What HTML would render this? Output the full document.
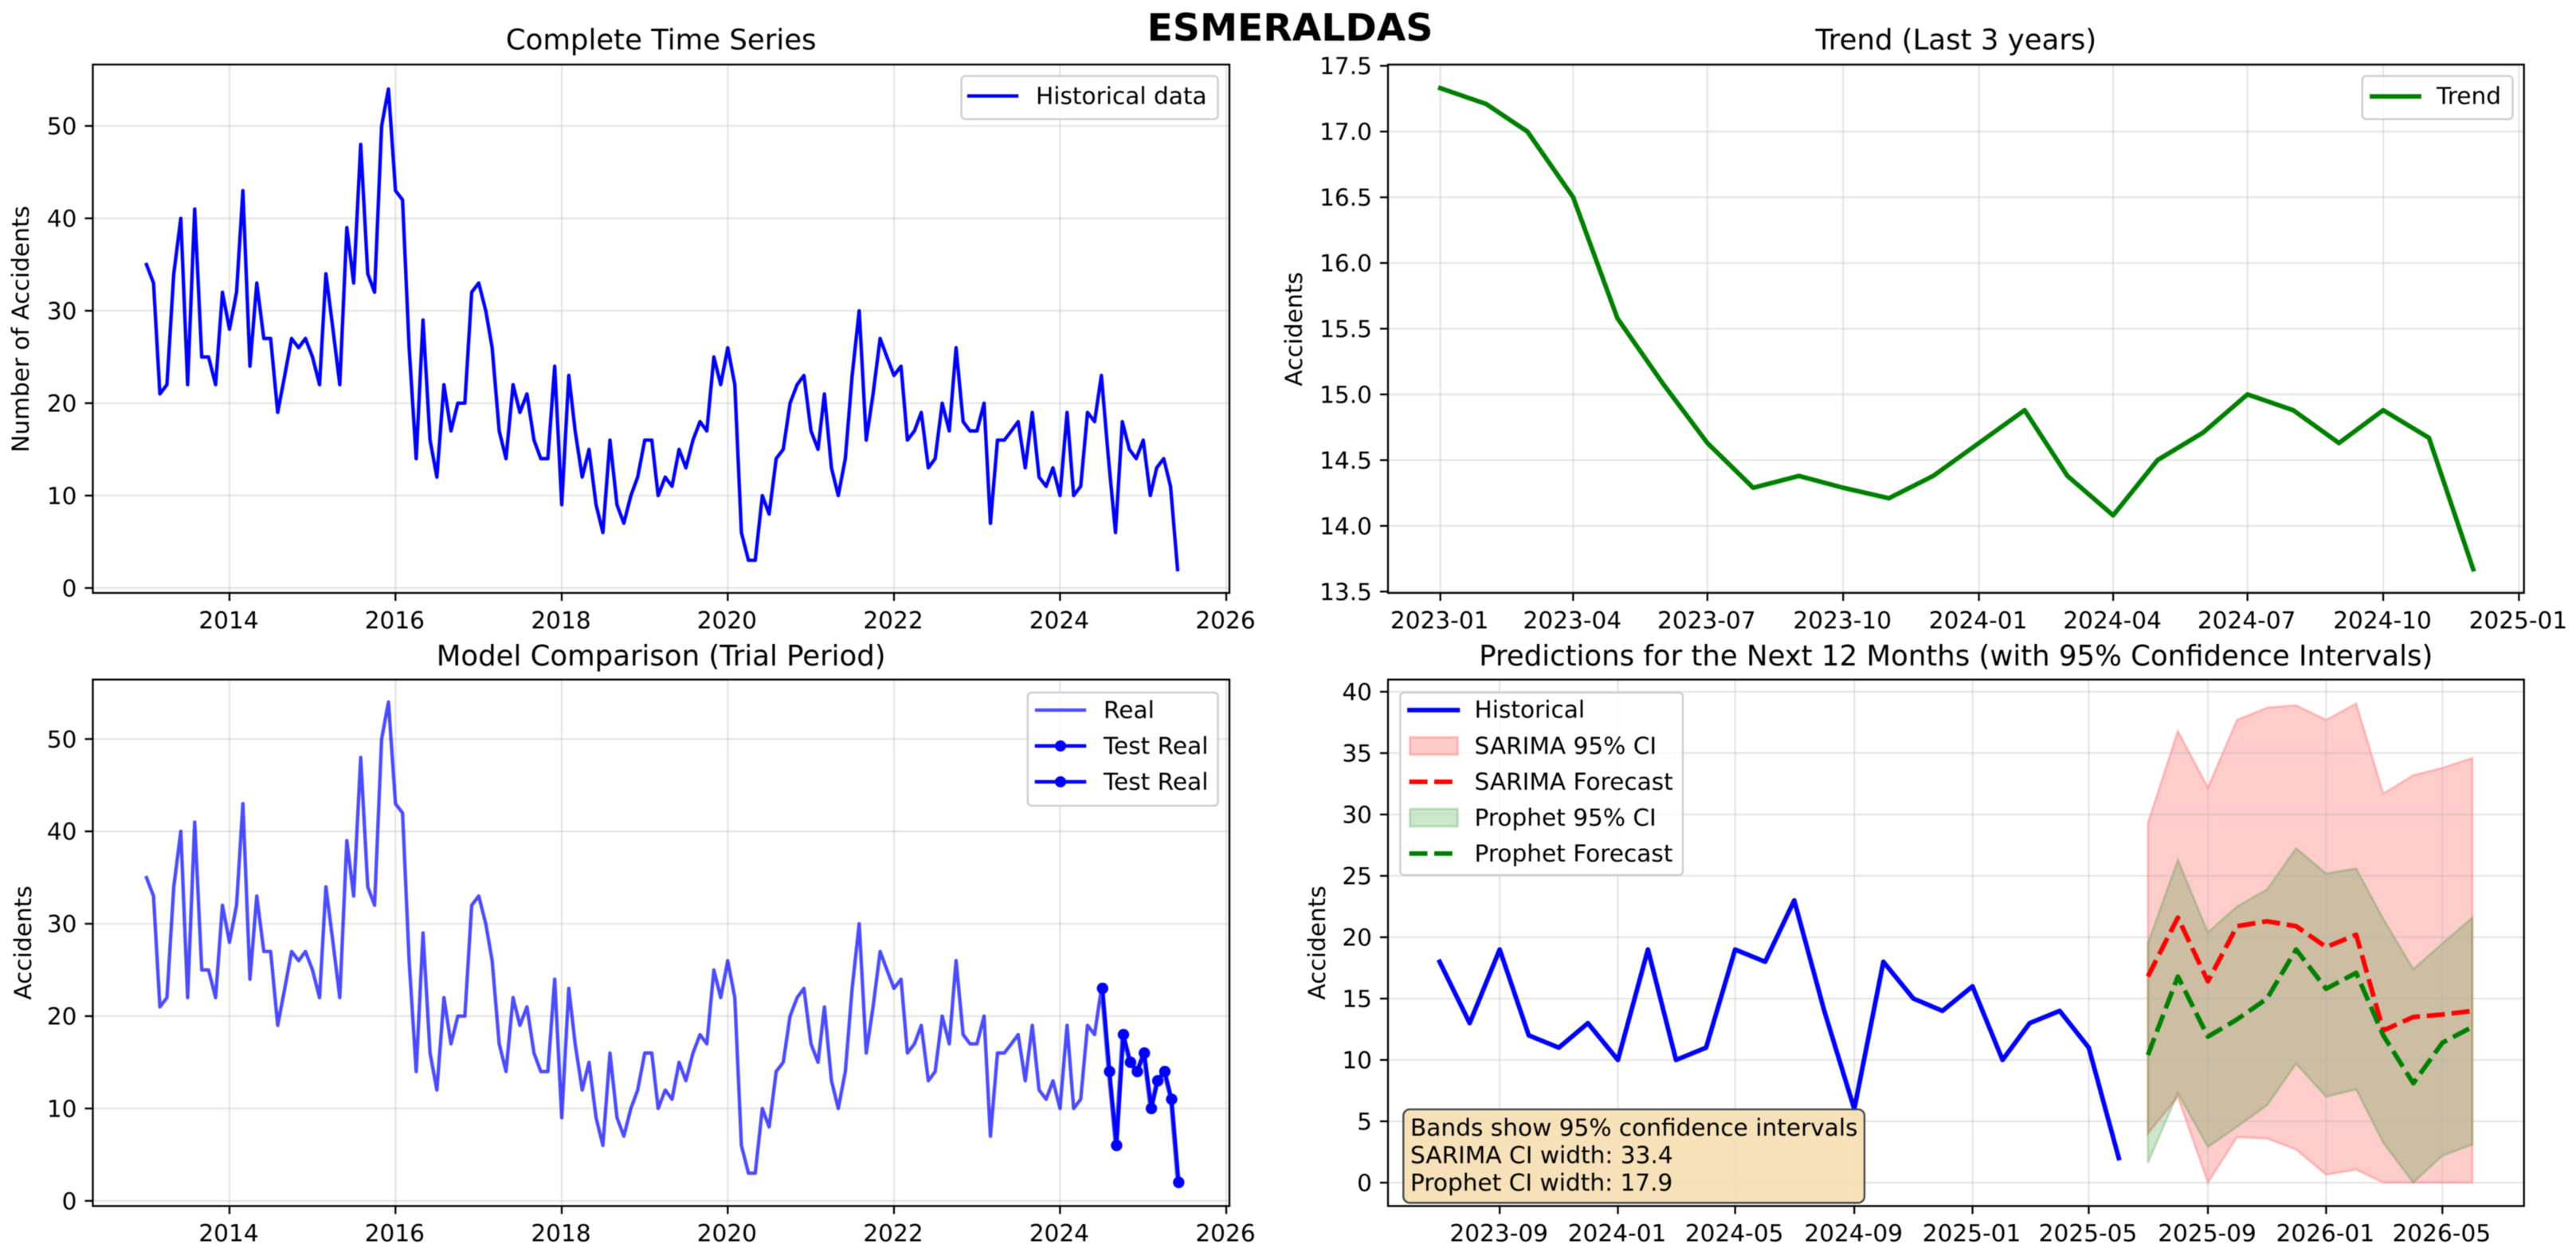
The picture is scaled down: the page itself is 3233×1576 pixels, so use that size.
<!DOCTYPE html>
<html lang="en">
<head>
<meta charset="utf-8">
<title>ESMERALDAS accident charts</title>
<style>
html,body{margin:0;padding:0;background:#fff;width:3233px;height:1576px;overflow:hidden}
svg{display:block;filter:blur(0.6px)}
text{font-family:"DejaVu Sans","Liberation Sans",sans-serif;font-size:29.6px;fill:#000}
.title{font-size:35.5px;text-anchor:middle}
.lg{fill:#fff;fill-opacity:.8;stroke:#ccc;stroke-width:2.3}
.frame{fill:none;stroke:#000;stroke-width:2.3}
</style>
</head>
<body>
<svg xmlns="http://www.w3.org/2000/svg" width="3233" height="1576" viewBox="0 0 3233 1576">
  <rect width="3233" height="1576" fill="#fff"/>
  <text x="1619" y="51" text-anchor="middle" style="font-size:47.3px;font-weight:bold">ESMERALDAS</text>

  <!-- Panel 1 -->
  <g>
    <text class="title" x="829.7" y="62">Complete Time Series</text>
    <text transform="translate(36,413) rotate(-90)" text-anchor="middle">Number of Accidents</text>
    <g id="p1-grid"></g><g id="p1-marks"></g><g id="p1-ticks"></g>
    <rect class="frame" x="116.5" y="81" width="1426.5" height="663"/>
    <g>
      <rect class="lg" x="1206.6" y="95.4" width="322" height="54.1" rx="5"/>
      <line x1="1216" x2="1276" y1="120.4" y2="120.4" stroke="#0000ff" stroke-width="4.35" stroke-linecap="square"/>
      <text x="1300" y="130.5">Historical data</text>
    </g>
  </g>

  <!-- Panel 2 -->
  <g>
    <text class="title" x="2454.8" y="62">Trend (Last 3 years)</text>
    <text transform="translate(1634,413) rotate(-90)" text-anchor="middle">Accidents</text>
    <g id="p2-grid"></g><g id="p2-marks"></g><g id="p2-ticks"></g>
    <rect class="frame" x="1742" y="81" width="1425.7" height="663"/>
    <g>
      <rect class="lg" x="2964.8" y="95.4" width="188.7" height="54.1" rx="5"/>
      <line x1="2977" x2="3036" y1="121" y2="121" stroke="#008000" stroke-width="5.8" stroke-linecap="square"/>
      <text x="3058" y="130.5">Trend</text>
    </g>
  </g>

  <!-- Panel 3 -->
  <g>
    <text class="title" x="829.7" y="835">Model Comparison (Trial Period)</text>
    <text transform="translate(39,1183) rotate(-90)" text-anchor="middle">Accidents</text>
    <g id="p3-grid"></g><g id="p3-marks"></g><g id="p3-ticks"></g>
    <rect class="frame" x="116.5" y="852.7" width="1426.5" height="660.6"/>
    <g>
      <rect class="lg" x="1289.8" y="869" width="238.8" height="142" rx="5"/>
      <line x1="1301" x2="1361" y1="891" y2="891" stroke="#0000ff" stroke-opacity=".7" stroke-width="4.35" stroke-linecap="square"/>
      <text x="1385" y="901">Real</text>
      <line x1="1301" x2="1361" y1="936" y2="936" stroke="#0000ff" stroke-width="4.6" stroke-linecap="square"/>
      <circle cx="1331" cy="936" r="7" fill="#0000ff"/>
      <text x="1385" y="946">Test Real</text>
      <line x1="1301" x2="1361" y1="981" y2="981" stroke="#0000ff" stroke-width="4.6" stroke-linecap="square"/>
      <circle cx="1331" cy="981" r="7" fill="#0000ff"/>
      <text x="1385" y="991">Test Real</text>
    </g>
  </g>

  <!-- Panel 4 -->
  <g>
    <text class="title" x="2454.8" y="835">Predictions for the Next 12 Months (with 95% Confidence Intervals)</text>
    <text transform="translate(1663,1183) rotate(-90)" text-anchor="middle">Accidents</text>
    <g id="p4-bands"></g><g id="p4-grid"></g><g id="p4-marks"></g><g id="p4-ticks"></g>
    <rect class="frame" x="1742" y="852.7" width="1425.7" height="660.6"/>
    <g>
      <rect class="lg" x="1757.3" y="869" width="354.7" height="229" rx="5"/>
      <line x1="1769" x2="1829.4" y1="891" y2="891" stroke="#0000ff" stroke-width="5.8" stroke-linecap="square"/>
      <text x="1850.5" y="900.5">Historical</text>
      <rect x="1769.5" y="925" width="60" height="22" fill="#ff0000" fill-opacity=".2" stroke="#ff0000" stroke-opacity=".2" stroke-width="2.9"/>
      <text x="1850.5" y="946">SARIMA 95% CI</text>
      <line x1="1768.7" x2="1829" y1="981" y2="981" stroke="#ff0000" stroke-width="5.8" stroke-dasharray="22.8 8.5"/>
      <text x="1850.5" y="991">SARIMA Forecast</text>
      <rect x="1769.5" y="1015" width="60" height="22" fill="#008000" fill-opacity=".2" stroke="#008000" stroke-opacity=".2" stroke-width="2.9"/>
      <text x="1850.5" y="1036">Prophet 95% CI</text>
      <line x1="1768.7" x2="1829" y1="1071" y2="1071" stroke="#008000" stroke-width="5.8" stroke-dasharray="22.8 8.5"/>
      <text x="1850.5" y="1081">Prophet Forecast</text>
    </g>
    <g>
      <rect x="1761.3" y="1392" width="578.7" height="117.3" rx="8" fill="#f5deb3" fill-opacity=".92" stroke="#444" stroke-width="2.3"/>
      <text x="1770" y="1425">Bands show 95% confidence intervals</text>
      <text x="1770" y="1459.5">SARIMA CI width: 33.4</text>
      <text x="1770" y="1494">Prophet CI width: 17.9</text>
    </g>
  </g>
</svg>

<script>
// ---- Chart data ----
const historyStart = '2013-01';
const historyValues = [
  35,33,21,22,34,40,22,41,25,25,22,32,
  28,32,43,24,33,27,27,19,23,27,26,27,
  25,22,34,28,22,39,33,48,34,32,50,54,
  43,42,26,14,29,16,12,22,17,20,20,32,
  33,30,26,17,14,22,19,21,16,14,14,24,
  9,23,17,12,15,9,6,16,9,7,10,12,
  16,16,10,12,11,15,13,16,18,17,25,22,
  26,22,6,3,3,10,8,14,15,20,22,23,
  17,15,21,13,10,14,23,30,16,21,27,25,
  23,24,16,17,19,13,14,20,17,26,18,17,
  17,20,7,16,16,17,18,13,19,12,11,13,
  10,19,10,11,19,18,23,14,6,18,15,14,
  16,10,13,14,11,2
];
const yearTicks = ['2014','2016','2018','2020','2022','2024','2026'];
const countTicks = [0,10,20,30,40,50];

const trendStart = '2023-01';
const trendValues = [17.33,17.21,17.0,16.5,15.58,15.08,14.63,14.29,14.38,14.29,14.21,14.38,14.63,14.88,14.38,14.08,14.5,14.71,15.0,14.88,14.63,14.88,14.67,13.67];
const trendXTicks = ['2023-01','2023-04','2023-07','2023-10','2024-01','2024-04','2024-07','2024-10','2025-01'];
const trendYTicks = ['13.5','14.0','14.5','15.0','15.5','16.0','16.5','17.0','17.5'];

const testStart = '2024-07';
const testValues = [23,14,6,18,15,14,16,10,13,14,11,2];

const recentStart = '2023-07';
const recentValues = [18,13,19,12,11,13,10,19,10,11,19,18,23,14,6,18,15,14,16,10,13,14,11,2];
const forecastStart = '2025-07';
const sarimaUpper = [29.3,36.8,32.2,37.7,38.7,38.9,37.7,39.05,31.7,33.2,33.8,34.6];
const sarimaLower = [4.0,7.0,0,3.7,3.6,2.7,0.65,1.07,0,0,0,0];
const sarimaForecast = [16.8,21.6,16.4,20.9,21.3,20.9,19.2,20.2,12.4,13.5,13.7,14.0];
const prophetUpper = [19.5,26.3,20.4,22.5,23.9,27.25,25.2,25.6,21.5,17.4,19.5,21.6];
const prophetLower = [1.6,7.3,2.9,4.55,6.3,9.7,7.0,7.6,3.25,0,2.2,3.1];
const prophetForecast = [10.4,16.8,11.9,13.3,15,19,15.8,17.1,12,8.1,11.4,12.7];
const predXTicks = ['2023-09','2024-01','2024-05','2024-09','2025-01','2025-05','2025-09','2026-01','2026-05'];
const predYTicks = [0,5,10,15,20,25,30,35,40];

// ---- Helpers ----
const NS = 'http://www.w3.org/2000/svg';
function make(tag, attrs, parent, text) {
  const n = document.createElementNS(NS, tag);
  for (const k in attrs) n.setAttribute(k, attrs[k]);
  if (text !== undefined) n.textContent = text;
  parent.appendChild(n);
  return n;
}
function parseDate(s) {
  const p = String(s).split('-').map(Number);
  return Date.UTC(p[0], (p[1] || 1) - 1, 1) / 86400000;
}
function monthsFrom(start, count) {
  const p = start.split('-').map(Number);
  const out = [];
  for (let i = 0; i < count; i++) out.push(Date.UTC(p[0], p[1] - 1 + i, 1) / 86400000);
  return out;
}
function linear(d0, r0, d1, r1) {
  return v => r0 + (v - d0) * (r1 - r0) / (d1 - d0);
}
function pathOf(xs, ys, xScale, yScale) {
  return xs.map((d, i) => (i ? 'L' : 'M') + xScale(d).toFixed(2) + ' ' + yScale(ys[i]).toFixed(2)).join('');
}
function drawAxes(id, box, xTicks, yTicks, xScale, yScale) {
  const grid = document.getElementById(id + '-grid');
  const ticks = document.getElementById(id + '-ticks');
  xTicks.forEach(label => {
    const x = xScale(parseDate(label));
    const g = make('line', {x1:x, x2:x, y1:box.top, y2:box.bottom, stroke:'#b0b0b0', 'stroke-opacity':.3, 'stroke-width':2.3}, grid);
    
    
    const t = make('line', {x1:x, x2:x, y1:box.bottom, y2:box.bottom + 10, stroke:'#000', 'stroke-width':2.3}, ticks);
    
    
    const l = make('text', {x:x - 1, y:box.bottom + 44.4, 'text-anchor':'middle'}, ticks, label);
    
    
  });
  yTicks.forEach(label => {
    const y = yScale(Number(label));
    const g = make('line', {x1:box.left, x2:box.right, y1:y, y2:y, stroke:'#b0b0b0', 'stroke-opacity':.3, 'stroke-width':2.3}, grid);
    
    
    const t = make('line', {x1:box.left - 10, x2:box.left, y1:y, y2:y, stroke:'#000', 'stroke-width':2.3}, ticks);
    
    
    const l = make('text', {x:box.left - 20, y:y + 10.5, 'text-anchor':'end'}, ticks, label);
    
    
  });
}
function drawLine(parent, xs, ys, xScale, yScale, style) {
  return make('path', Object.assign({d:pathOf(xs, ys, xScale, yScale), fill:'none', 'stroke-linejoin':'round'}, style), parent);
}

// ---- Panel boxes and scales ----
const box1 = {left:116.5, right:1543, top:81, bottom:744};
const box2 = {left:1742, right:3167.7, top:81, bottom:744};
const box3 = {left:116.5, right:1543, top:852.7, bottom:1513.3};
const box4 = {left:1742, right:3167.7, top:852.7, bottom:1513.3};

const x1 = linear(parseDate('2014'), 288, parseDate('2026'), 1539);
const y1 = linear(0, 737.8, 50, 158);
const x2 = linear(parseDate('2023-01'), 1807.7, parseDate('2025-01'), 3161.4);
const y2 = linear(13.5, 742.3, 17.5, 82.6);
const x3 = x1;
const y3 = linear(0, 1506.8, 50, 927.3);
const x4 = linear(parseDate('2023-09'), 1882.2, parseDate('2026-05'), 3065.3);
const y4 = linear(0, 1484, 40, 868);

// ---- Panel 1 ----
drawAxes('p1', box1, yearTicks, countTicks, x1, y1);
const historyDates = monthsFrom(historyStart, historyValues.length);
const histLine = drawLine(document.getElementById('p1-marks'), historyDates, historyValues, x1, y1, {stroke:'#0000ff', 'stroke-width':4.35, 'stroke-linecap':'square'});



// ---- Panel 2 ----
drawAxes('p2', box2, trendXTicks, trendYTicks, x2, y2);
const trendDates = monthsFrom(trendStart, trendValues.length);
const trendLine = drawLine(document.getElementById('p2-marks'), trendDates, trendValues, x2, y2, {stroke:'#008000', 'stroke-width':5.8, 'stroke-linecap':'square'});



// ---- Panel 3 ----
drawAxes('p3', box3, yearTicks, countTicks, x3, y3);
const p3Marks = document.getElementById('p3-marks');
const realLine = drawLine(p3Marks, historyDates, historyValues, x3, y3, {stroke:'#0000ff', 'stroke-opacity':.7, 'stroke-width':4.35, 'stroke-linecap':'square'});


const testDates = monthsFrom(testStart, testValues.length).map(d => d + 5);
const testLine = drawLine(p3Marks, testDates, testValues, x3, y3, {stroke:'#0000ff', 'stroke-width':4.6, 'stroke-linecap':'square'});


testValues.forEach((v, i) => {
  const dot = make('circle', {cx:x3(testDates[i]), cy:y3(v), r:7.2, fill:'#0000ff'}, p3Marks);
  
  
});

// ---- Panel 4 ----
drawAxes('p4', box4, predXTicks, predYTicks, x4, y4);
const recentDates = monthsFrom(recentStart, recentValues.length);
const forecastDates = monthsFrom(forecastStart, sarimaForecast.length);
function bandPath(upper, lower) {
  const top = forecastDates.map((d, i) => (i ? 'L' : 'M') + x4(d).toFixed(2) + ' ' + y4(upper[i]).toFixed(2));
  const bot = forecastDates.map((d, i) => 'L' + x4(d).toFixed(2) + ' ' + y4(lower[i]).toFixed(2)).reverse();
  return top.concat(bot).join('') + 'Z';
}
const p4Bands = document.getElementById('p4-bands');
const p4Marks = document.getElementById('p4-marks');
const sarimaBand = make('path', {d:bandPath(sarimaUpper, sarimaLower), fill:'#ff0000', 'fill-opacity':.2, stroke:'#ff0000', 'stroke-opacity':.2, 'stroke-width':2.9}, p4Bands);


const prophetBand = make('path', {d:bandPath(prophetUpper, prophetLower), fill:'#008000', 'fill-opacity':.2, stroke:'#008000', 'stroke-opacity':.2, 'stroke-width':2.9}, p4Bands);


const recentLine = drawLine(p4Marks, recentDates, recentValues, x4, y4, {stroke:'#0000ff', 'stroke-width':5.8, 'stroke-linecap':'square'});


const sarimaLine = drawLine(p4Marks, forecastDates, sarimaForecast, x4, y4, {stroke:'#ff0000', 'stroke-width':5.8, 'stroke-dasharray':'22.8 8.5'});


const prophetLine = drawLine(p4Marks, forecastDates, prophetForecast, x4, y4, {stroke:'#008000', 'stroke-width':5.8, 'stroke-dasharray':'22.8 8.5'});


</script>
</body>
</html>
